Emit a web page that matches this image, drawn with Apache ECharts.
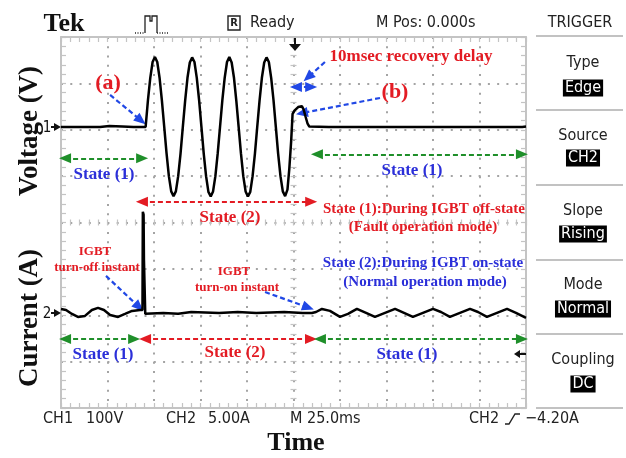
<!DOCTYPE html>
<html><head><meta charset="utf-8">
<script src="https://cdn.jsdelivr.net/npm/echarts@6/dist/echarts.min.js"></script>
<style>html,body{margin:0;padding:0;background:#fff}#c{width:626px;height:458px}</style>
</head><body><div id="c"></div>
<script>
// ---- data (time in ms, CH1 voltage in V, CH2 current in A) ----
const timeAxis = { min: -125, max: 125, div: 25 };
const voltageTrace = [
 [-125,0],[-119,0],[-118,2],[-117,0],[-112,0],[-111.5,3],[-110.5,0],[-104,0],[-99,2],[-98,0],[-92,1],[-86,0],[-85.5,2],[-84.5,0],
 [-79.5,0],[-78.25,58],[-77,106],[-75.75,140],[-74.5,151],[-73.25,140],[-72,106],[-70.75,57],[-69.5,0],[-68.25,-57],[-67,-106],[-65.75,-139],[-64.5,-149],[-63.25,-139],[-62,-106],[-60.75,-58],
 [-59.5,0],[-58.25,57],[-57,106],[-55.75,139],[-54.5,150],[-53.25,140],[-52,106],[-50.75,58],[-49.5,0],[-48.25,-58],[-47,-106],[-45.75,-140],[-44.5,-150],[-43.25,-139],[-42,-106],[-40.75,-57],
 [-39.5,0],[-38.25,58],[-37,106],[-35.75,140],[-34.5,151],[-33.25,139],[-32,106],[-30.75,57],[-29.5,0],[-28.25,-57],[-27,-106],[-25.75,-139],[-24.5,-150],[-23.25,-140],[-22,-106],[-20.75,-58],
 [-19.5,0],[-18.25,57],[-17,106],[-15.75,139],[-14.5,150],[-13.25,140],[-12,106],[-10.75,58],[-9.5,0],[-8.25,-58],[-7,-106],[-5.75,-139],[-4.5,-149],[-3.25,-135],[-2.25,-90],[-1.25,-30],[-0.5,28],
 [0.5,35],[1.5,38],[2.5,43],[3.5,46],[4.5,45],[5.5,37],[6.5,22],[7.5,8],[8.5,1],[9.5,0],
 [19,0],[19.5,3],[20.5,0],[44,0],[45,3],[46,0],[62,0],[63,3],[64,0],[86,0],[87,3],[88,0],[105,0],[106,2],[107,0],[119,0],[120,3],[121,0],[122,2],[123,0],[125,1]
];
const currentTrace = [
 [-125,0.43],[-122.3,0.32],[-119.1,-0.11],[-115.9,-0.43],[-112.1,-0.32],[-108.4,0.32],[-105.1,0.54],[-101.9,0.32],[-98.6,-0.22],[-94.3,-0.43],[-90.6,-0.11],[-86.8,0.22],[-82.5,0.32],[-81.2,0.32],
 [-81.0,10.9],[-80.6,10.6],[-80.4,5.7],[-79.9,5.7],[-79.7,-0.1],
 [-70,0],[-62,-0.1],[-55,0.1],[-40,0],[-30,0.1],[-20,0],[-5,0.1],[5,0],[9.9,0],
 [12.1,0.1],[15.3,0.43],[19.6,0.22],[25.0,-0.43],[29.3,-0.11],[34.1,0.43],[39.0,0],[43.8,-0.43],[49.2,0],[54.6,0.43],[59.4,0],[64.2,-0.43],[69.6,0],
 [75.0,0.43],[79.3,0.1],[84.1,-0.43],[89.5,0],[94.9,0.43],[99.2,0.1],[104.0,-0.43],[109.4,0],[114.8,0.43],[119.6,0],[125,-0.54]
];
const readouts = ['CH1','100V','CH2','5.00A','M 25.0ms','CH2','\u22124.20A'];
const triggerMenu = [['Type','Edge'],['Source','CH2'],['Slope','Rising'],['Mode','Normal'],['Coupling','DC']];

// ---- annotations (data coordinates) ----
const RED='#e31b23', BLUE='#2b2fd9', ABLUE='#2148e5', GREEN='#1f8f2a';
function arr(p1,p2,color,both){
  return [{coord:p1, symbol: both?'triangle':'none', lineStyle:{color:color}},{coord:p2, symbol:'triangle'}];
}
const voltageArrows = [
  arr([-98.6,69],[-82.0,14.2],ABLUE),
  arr([16.9,140],[7.8,107],ABLUE),
  arr([1.3,86],[9.5,86],ABLUE,true),
  arr([46.5,62.5],[4.5,29.8],ABLUE),
  arr([-122.8,-67.5],[-81.4,-67.5],GREEN,true),
  arr([12.6,-59],[122.8,-59],GREEN,true),
  arr([-81.5,-161],[9.5,-161],RED,true)
];
const currentArrows = [
  arr([-100.8,3.99],[-83.0,0.63],ABLUE),
  arr([-15.3,2.26],[7.9,0.58],ABLUE),
  arr([-122.8,-2.8],[-85.7,-2.8],GREEN,true),
  arr([-79.8,-2.8],[9.4,-2.8],RED,true),
  arr([14.2,-2.8],[122.8,-2.8],GREEN,true)
];
const markStyle = {silent:true, animation:false, symbolSize:[10,12], label:{show:false}, emphasis:{disabled:true},
  lineStyle:{type:[5,3], width:2.2}};

// ---- styles ----
const GRID_C='#c4c4c4', DOT_C='#a4a4a4';
const SERIF='"Liberation Serif","Times New Roman",serif';
const SANS='"DejaVu Sans Condensed","Liberation Sans Narrow","DejaVu Sans",sans-serif';
const dotted = {show:true, lineStyle:{color:DOT_C, width:2, type:[2,7.28]}};
function edgeX(pos, split){
  return {type:'value', min:timeAxis.min, max:timeAxis.max, interval:timeAxis.div, position:pos,
    axisLine:{show:true, onZero:false, lineStyle:{color:GRID_C, width:2}},
    axisTick:{show:true, inside:true, length:5, lineStyle:{color:GRID_C, width:1.2}},
    minorTick:{show:true, splitNumber:5, length:5, lineStyle:{color:GRID_C, width:1.2}},
    axisLabel:{show:false}, splitLine: split?dotted:{show:false}, minorSplitLine:{show:false}};
}
function centerX(pos){
  return {type:'value', min:timeAxis.min, max:timeAxis.max, interval:timeAxis.div, position:pos,
    axisLine:{show:false, onZero:true, onZeroAxisIndex:2},
    axisTick:{show:true, inside:true, length:3, lineStyle:{color:GRID_C, width:1.2}},
    minorTick:{show:true, splitNumber:5, length:3, lineStyle:{color:GRID_C, width:1.2}},
    axisLabel:{show:false}, splitLine:{show:false}};
}
function edgeY(pos, split){
  return {type:'value', min:-4, max:4, interval:1, position:pos,
    axisLine:{show:true, onZero:false, lineStyle:{color:GRID_C, width:2}},
    axisTick:{show:true, inside:true, length:5, lineStyle:{color:GRID_C, width:1.2}},
    minorTick:{show:true, splitNumber:5, length:5, lineStyle:{color:GRID_C, width:1.2}},
    axisLabel:{show:false}, splitLine: split?dotted:{show:false}};
}
function centerY(pos){
  return {type:'value', min:-4, max:4, interval:1, position:pos,
    axisLine:{show:false, onZero:true, onZeroAxisIndex:0},
    axisTick:{show:true, inside:true, length:3, lineStyle:{color:GRID_C, width:1.2}},
    minorTick:{show:true, splitNumber:5, length:3, lineStyle:{color:GRID_C, width:1.2}},
    axisLabel:{show:false}, splitLine:{show:false}};
}

function txt(x,y,text,font,fill,extra){
  return Object.assign({type:'text', x:x, y:y, silent:true, z:100,
    style:Object.assign({text:text, font:font, fill:fill, align:'center', verticalAlign:'middle'}, (extra&&extra.style)||{})},
    extra&&extra.el||{});
}
function line(x1,y1,x2,y2,color,w,dash){
  return {type:'line', silent:true, z:100, shape:{x1:x1,y1:y1,x2:x2,y2:y2}, style:{stroke:color, lineWidth:w, lineDash:dash||null}};
}
function poly(points,fill){ return {type:'polygon', silent:true, z:100, shape:{points:points}, style:{fill:fill}}; }
function pline(points,color,w,dash){ return {type:'polyline', silent:true, z:100, shape:{points:points}, style:{stroke:color, lineWidth:w, fill:null, lineDash:dash||null}}; }

const g = [];
// header
g.push(txt(64,24,'Tek','bold 26px '+SERIF,'#111'));
g.push(pline([[135,33],[145,33]],'#222',1.3,[1,1.5]));
g.push(pline([[145,33],[145,16],[150,16],[150,21],[152,21],[152,16],[157,16],[157,33]],'#222',1.3));
g.push(pline([[157,33],[168,33]],'#222',1.3,[1,1.5]));
g.push({type:'rect', silent:true, z:100, shape:{x:228,y:16,width:12,height:14}, style:{stroke:'#222', lineWidth:1.4, fill:null}});
g.push(txt(234,23.5,'R','bold 11px '+SANS,'#222'));
g.push(txt(250,23,'Ready','16px '+SANS,'#222',{style:{align:'left'}}));
g.push(txt(376,23,'M Pos: 0.000s','16px '+SANS,'#222',{style:{align:'left'}}));
g.push(txt(580,23,'TRIGGER','16px '+SANS,'#222'));
// trigger menu
[36,110,185,260,334,408].forEach(y=>g.push(line(536,y,623,y,'#c2c2c2',2)));
const menuY=[[63,88],[136,158],[211,234],[285,309],[360,384]];
triggerMenu.forEach((m,i)=>{
  g.push(txt(583,menuY[i][0],m[0],'16px '+SANS,'#222'));
  g.push(txt(583,menuY[i][1],m[1],'16px '+SANS,'#fff',{style:{backgroundColor:'#000', padding:[1,2,0,2]}}));
});
// bottom readouts
const rx=[43,86,166,208,290,469,525];
readouts.forEach((t,i)=>g.push(txt(rx[i],419,t,'16px '+SANS,'#222',{style:{align:'left'}})));
g.push(pline([[505,424],[509,424],[515,414],[520,414]],'#222',1.4));
// axis names
g.push(txt(30,131,'Voltage (V)','bold 27px '+SERIF,'#111',{el:{rotation:Math.PI/2}}));
g.push(txt(30,318,'Current (A)','bold 27px '+SERIF,'#111',{el:{rotation:Math.PI/2}}));
g.push(txt(296,443,'Time','bold 26px '+SERIF,'#111'));
// channel markers & trigger markers
g.push(txt(47,128,'1','15px '+SANS,'#111'));
g.push(line(51,127,56,127,'#111',2)); g.push(poly([[54,123],[54,131],[61,127]],'#111'));
g.push(txt(47,314,'2','15px '+SANS,'#111'));
g.push(line(51,313,56,313,'#111',2)); g.push(poly([[54,309],[54,317],[61,313]],'#111'));
g.push(line(295,38,295,45,'#111',2)); g.push(poly([[289,44],[301,44],[295,51]],'#111'));
g.push(line(519,354,526,354,'#111',2)); g.push(poly([[514,354],[520,350],[520,358]],'#111'));
// annotation texts
const B17='bold 17px '+SERIF, B15='bold 15px '+SERIF, B13='bold 13px '+SERIF;
g.push(txt(108,83,'(a)','bold 22px '+SERIF,RED));
g.push(txt(395,92,'(b)','bold 22px '+SERIF,RED));
g.push(txt(411,57,'10msec recovery delay',B17,RED));
g.push(txt(104,175,'State (1)',B17,BLUE));
g.push(txt(412,171,'State (1)',B17,BLUE));
g.push(txt(230,218,'State (2)',B17,RED));
g.push(txt(424,209,'State (1):During IGBT off-state',B15,RED));
g.push(txt(423,227,'(Fault operation mode)',B15,RED));
g.push(txt(423,263,'State (2):During IGBT on-state',B15,BLUE));
g.push(txt(425,282,'(Normal operation mode)',B15,BLUE));
g.push(txt(95,252,'IGBT',B13,RED));
g.push(txt(97,268,'turn-off instant',B13,RED));
g.push(txt(234,272,'IGBT',B13,RED));
g.push(txt(237,288,'turn-on instant',B13,RED));
g.push(txt(103,355,'State (1)',B17,BLUE));
g.push(txt(235,353,'State (2)',B17,RED));
g.push(txt(407,355,'State (1)',B17,BLUE));

const chart = echarts.init(document.getElementById('c'), null, {renderer:'canvas'});
chart.setOption({
  animation:false,
  backgroundColor:'#fff',
  grid:{left:61, right:100, top:37, bottom:50, show:false},
  xAxis:[edgeX('bottom',true), edgeX('top',false), centerX('bottom'), centerX('top')],
  yAxis:[
    {type:'value', min:-606, max:194, show:false},
    {type:'value', min:-10.25, max:29.75, show:false},
    edgeY('left',true), edgeY('right',false), centerY('left'), centerY('right')
  ],
  series:[
    {name:'CH1 Voltage', type:'line', xAxisIndex:0, yAxisIndex:0, data:voltageTrace, showSymbol:false, symbol:'none', clip:false,
     lineStyle:{color:'#000', width:2.5}, z:10, markLine:Object.assign({data:voltageArrows}, markStyle)},
    {name:'CH2 Current', type:'line', xAxisIndex:0, yAxisIndex:1, data:currentTrace, showSymbol:false, symbol:'none', clip:false,
     lineStyle:{color:'#000', width:2.5}, z:10, markLine:Object.assign({data:currentArrows}, markStyle)}
  ],
  graphic:g
});
</script>
</body></html>
